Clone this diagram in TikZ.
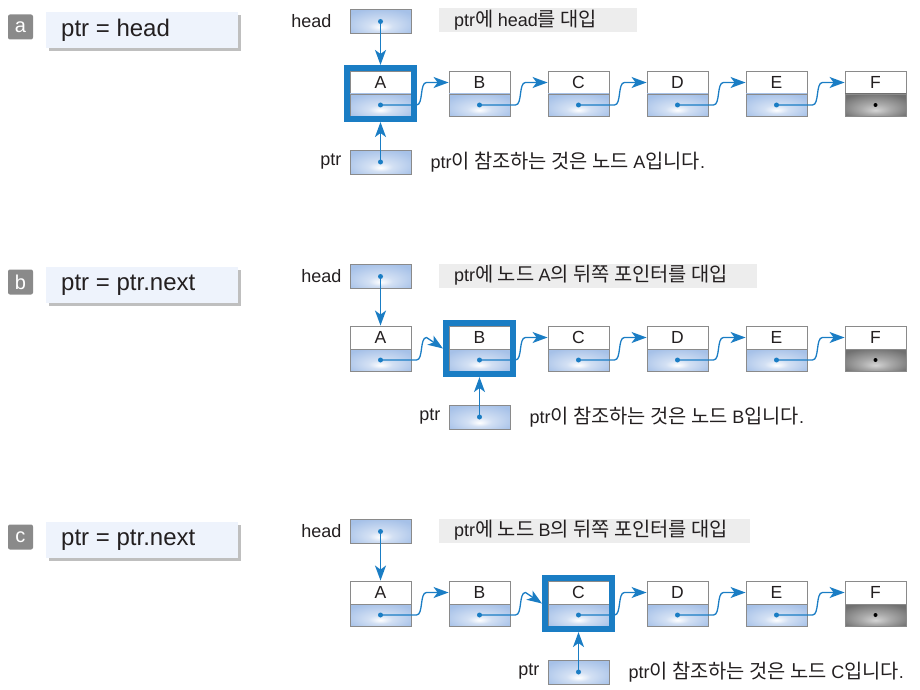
\documentclass[tikz,border=0pt]{standalone}
\usepackage{fontspec}
\setmainfont{Liberation Sans}
\newfontfamily\kr[Scale=1.1]{Noto Sans CJK KR}
\usetikzlibrary{arrows.meta,calc,fit,shadows}
\definecolor{pblue}{HTML}{1A7DC4}
\definecolor{lblue}{HTML}{A6C1E8}
\colorlet{lblueL}{white!50!lblue}
\definecolor{bord}{HTML}{8A8A8A}
\definecolor{capbg}{HTML}{EDEDED}
\definecolor{fbg}{HTML}{EEF3FC}
\definecolor{tagbg}{HTML}{8A8A8A}
\definecolor{txt}{HTML}{231F20}
\definecolor{gIn}{HTML}{D4D4D4}
\definecolor{gMid}{HTML}{AAAAAA}
\definecolor{gOut}{HTML}{707070}
\pgfdeclareradialshading{blueshade}{\pgfpoint{0bp}{-12bp}}{color(0bp)=(white); color(10bp)=(lblueL); color(32bp)=(lblue); color(50bp)=(lblue)}
\pgfdeclareradialshading{grayshade}{\pgfpoint{0bp}{-12bp}}{color(0bp)=(gIn); color(12bp)=(gMid); color(32bp)=(gOut); color(50bp)=(gOut)}
\tikzset{
  bigtip/.tip={Stealth[length=15pt,width=11pt,inset=4pt]},
}
\begin{document}
\begin{tikzpicture}[x=1pt,y=-1pt,
  datapart/.style={draw=bord, line width=0.9pt, fill=white, minimum width=61pt, minimum height=23pt, inner sep=0pt, font=\fontsize{17.5}{17.5}\selectfont, text=txt},
  linkpart/.style={draw=bord, line width=0.9pt, shade, shading=blueshade, minimum width=61pt, minimum height=22pt, inner sep=0pt},
  nullpart/.style={linkpart, shading=grayshade},
  ptrbox/.style={linkpart, minimum height=24pt},
  hl/.style={draw=pblue, line width=6pt, inner sep=2.6pt},
  ptrarrow/.style={draw=pblue, line width=1.6pt, arrows={-bigtip}},
  nextarrow/.style={draw=pblue, line width=1.3pt, arrows={-bigtip}},
  dot/.style={circle, fill=pblue, inner sep=0pt, minimum size=5pt},
  nulldot/.style={circle, fill=black, inner sep=0pt, minimum size=4pt},
  tagbox/.style={fill=tagbg, rounded corners=2pt, minimum width=25pt, minimum height=25pt, inner sep=0pt, text=white, font=\fontsize{20}{20}\selectfont},
  formula/.style={fill=fbg, minimum width=192pt, minimum height=36pt, inner sep=0pt, drop shadow={shadow xshift=3pt, shadow yshift=-3pt, fill=black!25, opacity=1}},
  formtxt/.style={font=\fontsize{24}{24}\selectfont, text=txt, inner sep=0pt},
  capbox/.style={fill=capbg, minimum height=24pt, inner sep=0pt},
  lbl/.style={font=\fontsize{18}{18}\selectfont, text=txt, inner sep=0pt}]
\useasboundingbox (0,0) rectangle (920,690);
\foreach \rw/\hi/\hn/\form/\hlab/\cw/\capA/\capB [count=\rk from 0] in {
 a/0/A/{ptr = head}/18/198/{ptr{\kr 에 }head{\kr 를 대입}}/{ptr{\kr 이 참조하는 것은 노드 }A{\kr 입니다}.},
 b/1/B/{ptr = ptr.next}/8/318/{ptr{\kr 에 노드 }A{\kr 의 뒤쪽 포인터를 대입}}/{ptr{\kr 이 참조하는 것은 노드 }B{\kr 입니다}.},
 c/2/C/{ptr = ptr.next}/8/311/{ptr{\kr 에 노드 }B{\kr 의 뒤쪽 포인터를 대입}}/{ptr{\kr 이 참조하는 것은 노드 }C{\kr 입니다}.}}
{
  \pgfmathsetmacro\yoff{255*\rk}
  % left label
  \node[tagbox] (\rw tag) at (20.5,\yoff+27) {\rw};
  \node[formula] (\rw form) at (142,\yoff+30) {};
  \node[formtxt, anchor=west] (\rw formt) at (61,\yoff+30) {\form};
  % caption box
  \node[capbox, minimum width=\cw pt, anchor=west] (\rw cap) at (439,\yoff+20.5) {};
  \node[lbl, anchor=west] (\rw capt) at ([xshift=15pt]\rw cap.west) {\capA};
  % head
  \node[ptrbox] (\rw head) at (380.5,\yoff+21.5) {};
  \node[lbl, anchor=east] (\rw headl) at ([xshift=-\hlab pt]\rw head.west) {head};
  % list nodes
  \foreach \nm [count=\ix from 0] in {A,B,C,D,E,F} {
    \pgfmathsetmacro\nx{380.5+99*\ix}
    \node[datapart] (\rw\nm t) at (\nx,\yoff+82.5) {\nm};
    \ifnum\ix=5
      \node[nullpart] (\rw\nm b) at (\nx,\yoff+105) {};
      \node[nulldot] (\rw\nm dot) at (\rw\nm b.center) {};
    \else
      \node[linkpart] (\rw\nm b) at (\nx,\yoff+105) {};
    \fi
  }
  % highlight
  \node[hl, fit=(\rw\hn t)(\rw\hn b)] (\rw hl) {};
  % ptr
  \pgfmathsetmacro\px{380.5+99*\hi}
  \node[ptrbox] (\rw ptr) at (\px,\yoff+162) {};
  \node[lbl, anchor=east] (\rw ptrl) at ([xshift=-8pt]\rw ptr.west) {ptr};
  \node[lbl, anchor=west] (\rw ptrc) at ([xshift=19pt]\rw ptr.east) {\capB};
  % connectors
  \foreach \sa/\sb [count=\j from 1] in {A/B,B/C,C/D,D/E,E/F} {
    \pgfmathsetmacro\sx{380.5+99*(\j-1)}
    \ifnum\j=\hi \def\tgt{\rw hl}\else\def\tgt{\rw\sb t}\fi
    \draw[nextarrow] (\rw\sa b.center) -- (\sx+36,\yoff+105)
      .. controls (\sx+43,\yoff+105) and (\sx+39,\yoff+82.5) .. (\sx+46,\yoff+82.5)
      -- (\tgt.west);
    \node[dot] (\rw\sa dot) at (\rw\sa b.center) {};
  }
  \ifnum\hi=0 \def\htgt{\rw hl}\else\def\htgt{\rw At}\fi
  \draw[ptrarrow] (\rw head.center) -- (\htgt.north);
  \node[dot] (\rw headdot) at (\rw head.center) {};
  \draw[ptrarrow] (\rw ptr.center) -- (\rw hl.south);
  \node[dot] (\rw ptrdot) at (\rw ptr.center) {};
}
\end{tikzpicture}
\end{document}
